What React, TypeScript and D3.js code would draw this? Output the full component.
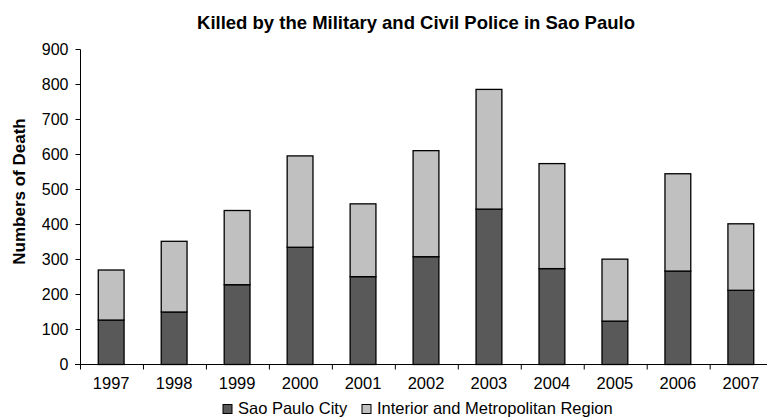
import React, { useEffect, useRef } from "react";
import * as d3 from "d3";

const years = ["1997", "1998", "1999", "2000", "2001", "2002", "2003", "2004", "2005", "2006", "2007"];
const cityValues = [127, 150, 228, 335, 251, 308, 444, 274, 124, 267, 212];
const interiorValues = [143, 202, 212, 261, 208, 303, 342, 300, 177, 278, 190];
const seriesNames = ["Sao Paulo City", "Interior and Metropolitan Region"];
const seriesColors = ["#595959", "#c0c0c0"];
const yTicks = [0, 100, 200, 300, 400, 500, 600, 700, 800, 900];

const App = () => {
  const svgRef = useRef<SVGSVGElement>(null);

  useEffect(() => {
    const svg = d3.select(svgRef.current);
    svg.selectAll("*").remove();
    const font = "Arial, 'Liberation Sans', sans-serif";

    const x = d3.scaleBand().domain(years).range([80, 772]).paddingInner(0.59).paddingOuter(0.29);
    const y = d3.scaleLinear().domain([0, 900]).range([364.5, 49.5]);

    // stacked rows
    const rows = years.map((yr, i) => ({ year: yr, city: cityValues[i], interior: interiorValues[i] }));
    const stacked = d3.stack<any>().keys(["city", "interior"])(rows);

    svg
      .selectAll(".layer")
      .data(stacked)
      .join("g")
      .attr("fill", (_d, i) => seriesColors[i])
      .selectAll("rect")
      .data((d) => d)
      .join("rect")
      .attr("x", (d: any) => x(d.data.year)!)
      .attr("y", (d) => y(d[1]))
      .attr("width", x.bandwidth())
      .attr("height", (d) => y(d[0]) - y(d[1]))
      .attr("stroke", "#000")
      .attr("stroke-width", 1.3);

    // y axis
    const yAxis = svg.append("g").attr("transform", "translate(80.5,0)");
    yAxis.append("line").attr("y1", y(900)).attr("y2", y(0)).attr("stroke", "#000");
    yAxis
      .selectAll(".tk")
      .data(yTicks)
      .join("line")
      .attr("x1", -5)
      .attr("x2", 0)
      .attr("y1", (d) => y(d))
      .attr("y2", (d) => y(d))
      .attr("stroke", "#000");
    yAxis
      .selectAll("text")
      .data(yTicks)
      .join("text")
      .attr("x", -12)
      .attr("y", (d) => y(d))
      .attr("dy", "0.35em")
      .attr("text-anchor", "end")
      .style("font-family", font)
      .style("font-size", "16px")
      .text((d) => d);

    // x axis
    const xAxis = svg.append("g").attr("transform", `translate(0,${y(0)})`);
    xAxis.append("line").attr("x1", 75).attr("x2", 772).attr("stroke", "#000");
    const step = x.step();
    xAxis
      .selectAll(".tk")
      .data(d3.range(years.length + 1))
      .join("line")
      .attr("x1", (i) => 80.5 + i * step)
      .attr("x2", (i) => 80.5 + i * step)
      .attr("y1", 0)
      .attr("y2", 5)
      .attr("stroke", "#000");
    xAxis
      .selectAll("text")
      .data(years)
      .join("text")
      .attr("x", (d) => x(d)! + x.bandwidth() / 2)
      .attr("y", 24.5)
      .attr("text-anchor", "middle")
      .style("font-family", font)
      .style("font-size", "16.5px")
      .text((d) => d);

    // title
    svg
      .append("text")
      .attr("x", 416)
      .attr("y", 29)
      .attr("text-anchor", "middle")
      .attr("font-weight", "bold")
      .style("font-family", font)
      .style("font-size", "18.5px")
      .text("Killed by the Military and Civil Police in Sao Paulo");

    // y label
    svg
      .append("text")
      .attr("transform", `translate(25,191.5) rotate(-90)`)
      .attr("text-anchor", "middle")
      .attr("font-weight", "bold")
      .style("font-family", font)
      .style("font-size", "17px")
      .text("Numbers of Death");

    // legend
    const legendX = [223, 362];
    const legend = svg
      .selectAll(".legend")
      .data(seriesNames)
      .join("g")
      .attr("transform", (_d, i) => `translate(${legendX[i]},404.5)`);
    legend
      .append("rect")
      .attr("width", 9)
      .attr("height", 9)
      .attr("fill", (_d, i) => seriesColors[i])
      .attr("stroke", "#000");
    legend
      .append("text")
      .attr("x", 15)
      .attr("y", 9.5)
      .style("font-family", font)
      .style("font-size", "16.5px")
      .text((d) => d);
  }, []);

  return <svg ref={svgRef} width={767} height={418} style={{ position: "absolute", left: 0, top: 0, background: "#fff" }}></svg>;
};

export default App;
